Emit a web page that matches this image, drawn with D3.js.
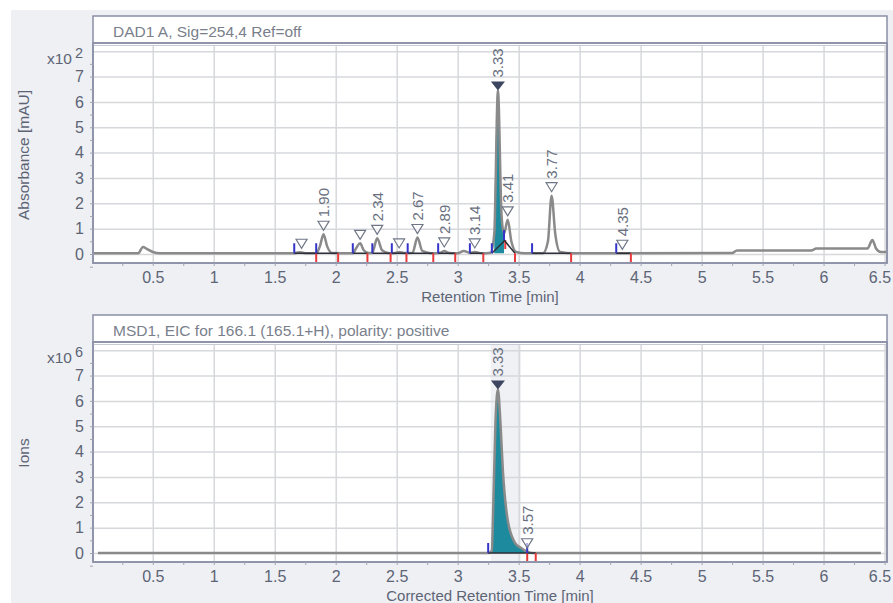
<!DOCTYPE html>
<html>
<head>
<meta charset="utf-8">
<script src="https://cdn.jsdelivr.net/npm/d3@7"></script>
<style>
  body { margin: 0; background: #fff; }
  svg { display: block; font-family: "Liberation Sans", Arial, sans-serif; }
</style>
</head>
<body>
<div id="chart"></div>
<script>
// x-axis ticks (minutes) and y ticks (scaled units)
const xTicks = [0.5, 1, 1.5, 2, 2.5, 3, 3.5, 4, 4.5, 5, 5.5, 6, 6.5];
const yTicks = [0, 1, 2, 3, 4, 5, 6, 7];

// DAD1 A trace, x10^2 mAU
const dadTime = [0.01, 0.38, 0.42, 0.45, 0.50, 0.56, 1.66, 1.70, 1.73, 1.76, 1.84, 1.87, 1.90, 1.93, 1.97, 2.14, 2.17, 2.20, 2.23, 2.27, 2.30, 2.34, 2.38, 2.44, 2.49, 2.52, 2.56, 2.63, 2.67, 2.71, 2.78, 2.86, 2.89, 2.93, 3.00, 3.05, 3.10, 3.14, 3.20, 3.27, 3.30, 3.33, 3.36, 3.38, 3.41, 3.44, 3.48, 3.55, 3.70, 3.74, 3.77, 3.80, 3.84, 3.95, 4.35, 5.25, 5.29, 5.90, 5.94, 6.36, 6.40, 6.43, 6.47, 6.52];
const dadValue = [0.03, 0.03, 0.28, 0.2, 0.08, 0.03, 0.03, 0.07, 0.05, 0.03, 0.03, 0.3, 0.78, 0.3, 0.04, 0.03, 0.25, 0.42, 0.15, 0.04, 0.05, 0.62, 0.15, 0.03, 0.04, 0.08, 0.04, 0.05, 0.65, 0.12, 0.03, 0.05, 0.12, 0.04, 0.03, 0.12, 0.04, 0.08, 0.03, 0.05, 0.8, 6.45, 1.5, 0.8, 1.35, 0.5, 0.08, 0.03, 0.03, 0.5, 2.3, 0.8, 0.08, 0.03, 0.03, 0.04, 0.14, 0.14, 0.22, 0.22, 0.55, 0.22, 0.08, 0.08];
const dadFill = [3.28, 3.38];

const dadPeakTimes = [1.72, 1.90, 2.20, 2.34, 2.52, 2.67, 2.89, 3.14, 3.33, 3.41, 3.77, 4.35];
const dadPeakHeights = [0.07, 0.78, 0.42, 0.62, 0.08, 0.65, 0.12, 0.08, 6.45, 1.35, 2.3, 0.03];
const dadPeakLabels = ["", "1.90", "", "2.34", "", "2.67", "2.89", "3.14", "3.33", "3.41", "3.77", "4.35"];
const dadMainPeak = 8;

const dadBaseStart = [1.66, 1.84, 2.14, 2.30, 2.46, 2.59, 2.84, 3.10, 3.28, 3.38, 3.61, 4.30];
const dadBaseEnd = [1.84, 2.02, 2.26, 2.45, 2.58, 2.80, 2.98, 3.21, 3.39, 3.47, 3.93, 4.42];
const dadBaseStartVal = [0.03, 0.03, 0.03, 0.03, 0.03, 0.03, 0.03, 0.03, 0.03, 0.55, 0.03, 0.03];
const dadBaseEndVal = [0.03, 0.03, 0.03, 0.03, 0.03, 0.03, 0.03, 0.03, 0.55, 0.03, 0.03, 0.03];

// MSD1 EIC trace, x10^6 ions
const msdTime = [0.05, 3.25, 3.28, 3.29, 3.31, 3.33, 3.35, 3.37, 3.41, 3.47, 3.52, 3.57, 3.62, 6.47];
const msdValue = [0, 0, 0.1, 1.5, 5.2, 6.45, 5.2, 3.3, 1.3, 0.4, 0.2, 0.05, 0, 0];
const msdFill = [3.25, 3.57];
const msdBand = [3.27, 3.52];

const msdPeakTimes = [3.33, 3.57];
const msdPeakHeights = [6.45, 0.05];
const msdPeakLabels = ["3.33", "3.57"];
const msdMainPeak = 0;

const msdBaseStart = [3.25, 3.57];
const msdBaseEnd = [3.57, 3.64];
const msdBaseStartVal = [0, 0];
const msdBaseEndVal = [0, 0];

const W = 893, H = 603;
const textColor = "#5d6474";
const frameColor = "#8a8fa6";
const gridColor = "#d6d8dc";

const svg = d3.select("#chart").append("svg")
    .attr("width", W)
    .attr("height", H);

svg.append("rect")
    .attr("x", 11).attr("y", 10)
    .attr("width", W - 11).attr("height", H - 10)
    .attr("fill", "#eef0f4");

const x = d3.scaleLinear().domain([0.01, 6.52]).range([93, 887]);

function drawPanel(cfg) {
    const g = svg.append("g");
    const y = d3.scaleLinear().domain([0, 7]).range([cfg.zeroY, cfg.zeroY - 7 * 25.35]);
    const left = 93, right = 887, top = cfg.headerBottom, bottom = cfg.plotBottom;

    // frame + header
    g.append("rect")
        .attr("x", left).attr("y", cfg.frameTop)
        .attr("width", right - left).attr("height", bottom - cfg.frameTop)
        .attr("fill", "#fff")
        .attr("stroke", frameColor)
        .attr("stroke-width", 1.5);
    g.append("line")
        .attr("x1", left).attr("x2", right)
        .attr("y1", top - 1).attr("y2", top - 1)
        .attr("stroke", frameColor).attr("stroke-width", 1.5);
    g.append("line")
        .attr("x1", left).attr("x2", right)
        .attr("y1", top + 1.5).attr("y2", top + 1.5)
        .attr("stroke", "#c8cad4").attr("stroke-width", 1);
    g.append("text")
        .attr("x", 113).attr("y", (cfg.frameTop + top) / 2 + 1)
        .attr("dominant-baseline", "central")
        .attr("fill", "#7a7f8c")
        .attr("font-size", "15.5px")
        .text(cfg.title);

    const clipId = "clip" + cfg.id;
    svg.append("clipPath").attr("id", clipId)
        .append("rect")
        .attr("x", left + 1).attr("y", top + 2)
        .attr("width", right - left - 2).attr("height", bottom - top - 3);
    const plot = g.append("g").attr("clip-path", `url(#${clipId})`);

    if (cfg.band) {
        plot.append("rect")
            .attr("x", x(cfg.band[0])).attr("y", top)
            .attr("width", x(cfg.band[1]) - x(cfg.band[0]))
            .attr("height", bottom - top)
            .attr("fill", "#f0f1f4");
    }

    // grid
    plot.append("g")
        .attr("transform", `translate(0,${bottom})`)
        .call(d3.axisBottom(x).tickValues(xTicks).tickSize(-(bottom - top)).tickFormat(""))
        .call(s => s.select(".domain").remove())
        .call(s => s.selectAll("line").attr("stroke", gridColor).attr("stroke-width", 1.5));
    plot.append("g")
        .attr("transform", `translate(${left},0)`)
        .call(d3.axisLeft(y).tickValues(yTicks.concat([8])).tickSize(-(right - left)).tickFormat(""))
        .call(s => s.select(".domain").remove())
        .call(s => s.selectAll("line").attr("stroke", gridColor).attr("stroke-width", 1.5));

    // fill under main peak
    const pts = cfg.time.map((t, i) => [t, cfg.value[i]]);
    const fillPts = pts.filter(p => p[0] >= cfg.fill[0] && p[0] <= cfg.fill[1]);
    plot.append("path")
        .datum(fillPts)
        .attr("fill", "#1d8b9d")
        .attr("d", d3.area().x(p => x(p[0])).y0(y(cfg.baseFill)).y1(p => y(p[1])).curve(d3.curveMonotoneX));

    // trace
    plot.append("path")
        .datum(pts)
        .attr("fill", "none")
        .attr("stroke", "#8a8a8a")
        .attr("stroke-width", 2.5)
        .attr("stroke-linejoin", "round")
        .attr("d", d3.line().x(p => x(p[0])).y(p => y(p[1])).curve(d3.curveMonotoneX));

    // integration baselines
    cfg.baseStart.forEach((s, i) => {
        const e = cfg.baseEnd[i];
        plot.append("line")
            .attr("x1", x(s)).attr("y1", y(cfg.baseStartVal[i]))
            .attr("x2", x(e)).attr("y2", y(cfg.baseEndVal[i]))
            .attr("stroke", "#2b2f38").attr("stroke-width", 1.5);
        plot.append("line")
            .attr("x1", x(s)).attr("x2", x(s))
            .attr("y1", y(cfg.baseStartVal[i])).attr("y2", y(cfg.baseStartVal[i]) - 10)
            .attr("stroke", "#3434c8").attr("stroke-width", 2);
        plot.append("line")
            .attr("x1", x(e)).attr("x2", x(e))
            .attr("y1", y(cfg.baseEndVal[i])).attr("y2", y(cfg.baseEndVal[i]) + 9)
            .attr("stroke", "#e83a3a").attr("stroke-width", 2);
    });

    // peak markers + labels
    cfg.peakTimes.forEach((t, i) => {
        const px = x(t), py = y(cfg.peakHeights[i]);
        let triTop;
        if (i === cfg.mainPeak) {
            triTop = py - 9;
            g.append("path")
                .attr("d", `M${px - 7},${triTop}L${px + 7},${triTop}L${px},${py}Z`)
                .attr("fill", "#3c4660");
        } else {
            triTop = py - 13;
            g.append("path")
                .attr("d", `M${px - 5.5},${triTop}L${px + 5.5},${triTop}L${px},${py - 4}Z`)
                .attr("fill", "#fff")
                .attr("fill-opacity", 0.6)
                .attr("stroke", "#6f7686")
                .attr("stroke-width", 1.2);
        }
        if (cfg.peakLabels[i]) {
            g.append("text")
                .attr("transform", `translate(${px},${triTop - 4}) rotate(-90)`)
                .attr("text-anchor", "start")
                .attr("dominant-baseline", "central")
                .attr("fill", "#6a7080")
                .attr("font-size", "15px")
                .text(cfg.peakLabels[i]);
        }
    });

    // redraw frame edge on top
    g.append("rect")
        .attr("x", left).attr("y", top - 1)
        .attr("width", right - left).attr("height", bottom - top + 1)
        .attr("fill", "none")
        .attr("stroke", frameColor)
        .attr("stroke-width", 1.5);

    // x axis minor ticks and labels
    const minor = d3.range(0.25, 6.6, 0.25);
    g.append("g")
        .attr("transform", `translate(0,${bottom})`)
        .call(d3.axisBottom(x).tickValues(minor).tickSize(3).tickFormat(""))
        .call(s => s.select(".domain").remove())
        .call(s => s.selectAll("line").attr("stroke", "#a0a4b4"));
    g.append("g")
        .attr("transform", `translate(0,${bottom})`)
        .call(d3.axisBottom(x).tickValues(xTicks).tickSize(0).tickPadding(9).tickFormat(d3.format("")))
        .call(s => s.select(".domain").remove())
        .call(s => s.selectAll("text").attr("fill", textColor).attr("font-size", "16px")
            .attr("font-family", "Liberation Sans, Arial, sans-serif"))
        // last label sits against the right edge, as in the original
        .call(s => s.selectAll(".tick").filter(d => d === 6.5).select("text")
            .attr("text-anchor", "end").attr("x", 6));

    // y axis
    g.append("g")
        .attr("transform", `translate(${left},0)`)
        .call(d3.axisLeft(y).tickValues(d3.range(-0.5, 8.1, 0.5).filter(v => v % 1 !== 0)).tickSize(3).tickFormat(""))
        .call(s => s.select(".domain").remove())
        .call(s => s.selectAll("line").attr("stroke", "#a0a4b4"));
    g.append("g")
        .attr("transform", `translate(${left},0)`)
        .call(d3.axisLeft(y).tickValues(yTicks).tickSize(3).tickPadding(6).tickFormat(d3.format("d")))
        .call(s => s.select(".domain").remove())
        .call(s => s.selectAll("line").attr("stroke", "#a0a4b4"))
        .call(s => s.selectAll("text").attr("fill", textColor).attr("font-size", "16px")
            .attr("font-family", "Liberation Sans, Arial, sans-serif"));

    // exponent
    g.append("text")
        .attr("x", 72).attr("y", y(8) + 13)
        .attr("text-anchor", "end")
        .attr("fill", textColor)
        .attr("font-size", "15.5px")
        .text("x10");
    g.append("text")
        .attr("x", 75).attr("y", y(8) + 7)
        .attr("fill", textColor)
        .attr("font-size", "14.5px")
        .text(cfg.exponent);

    // axis titles
    g.append("text")
        .attr("x", 490).attr("y", cfg.xTitleY)
        .attr("text-anchor", "middle")
        .attr("fill", textColor)
        .attr("font-size", "15px")
        .text(cfg.xTitle);
    g.append("text")
        .attr("transform", `translate(23,${cfg.yTitleY}) rotate(-90)`)
        .attr("text-anchor", "middle")
        .attr("dominant-baseline", "central")
        .attr("fill", textColor)
        .attr("font-size", "15.5px")
        .text(cfg.yTitle);
}

drawPanel({
    id: "dad", title: "DAD1 A, Sig=254,4 Ref=off",
    frameTop: 16, headerBottom: 44, plotBottom: 263, zeroY: 254,
    time: dadTime, value: dadValue, fill: dadFill, baseFill: 0.03,
    peakTimes: dadPeakTimes, peakHeights: dadPeakHeights, peakLabels: dadPeakLabels, mainPeak: dadMainPeak,
    baseStart: dadBaseStart, baseEnd: dadBaseEnd, baseStartVal: dadBaseStartVal, baseEndVal: dadBaseEndVal,
    exponent: "2", xTitle: "Retention Time [min]", xTitleY: 302,
    yTitle: "Absorbance [mAU]", yTitleY: 155
});

drawPanel({
    id: "msd", title: "MSD1, EIC for 166.1 (165.1+H), polarity: positive",
    frameTop: 315, headerBottom: 343, plotBottom: 562, zeroY: 553,
    time: msdTime, value: msdValue, fill: msdFill, baseFill: 0, band: msdBand,
    peakTimes: msdPeakTimes, peakHeights: msdPeakHeights, peakLabels: msdPeakLabels, mainPeak: msdMainPeak,
    baseStart: msdBaseStart, baseEnd: msdBaseEnd, baseStartVal: msdBaseStartVal, baseEndVal: msdBaseEndVal,
    exponent: "6", xTitle: "Corrected Retention Time [min]", xTitleY: 601,
    yTitle: "Ions", yTitleY: 453
});
</script>
</body>
</html>
